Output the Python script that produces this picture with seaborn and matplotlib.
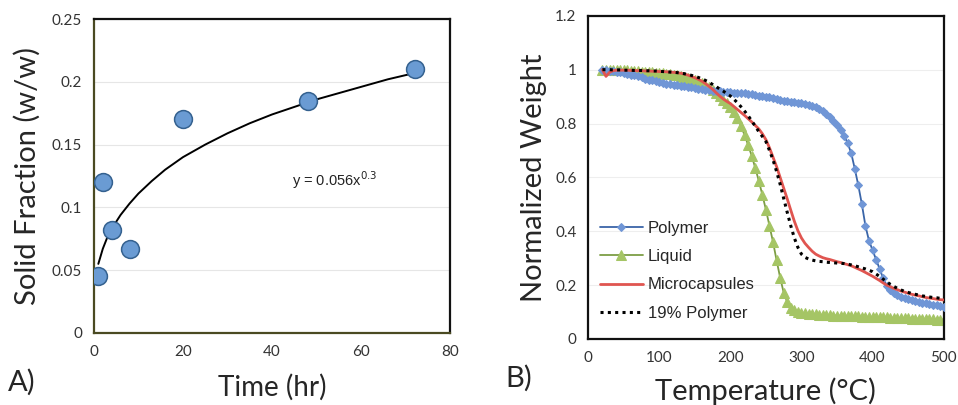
import numpy as np
import pandas as pd
import seaborn as sns
import matplotlib.pyplot as plt
from matplotlib.ticker import FuncFormatter

# +-------------------------------------+
#        Dados - painel A
# +-------------------------------------+
tempo_hr = [1, 2, 4, 8, 20, 48, 72]
fracao_solida = [0.045, 0.120, 0.082, 0.067, 0.170, 0.185, 0.210]

# curva de ajuste (y = 0.056x^0.3)
ajuste_x = [1, 2, 3, 4, 6, 8, 10, 13, 16, 20, 25, 30, 35, 40, 45, 50, 55, 60, 66, 72]
ajuste_y = [0.055, 0.067, 0.076, 0.083, 0.094, 0.103, 0.111, 0.121, 0.130, 0.140,
            0.150, 0.159, 0.167, 0.174, 0.180, 0.186, 0.191, 0.196, 0.202, 0.207]

# +-------------------------------------+
#        Dados - painel B (TGA)
# +-------------------------------------+
temperatura = list(range(20, 501, 5))

polymer = [1.000, 0.998, 0.996, 0.994, 0.992, 0.990, 0.988, 0.985, 0.982, 0.979,
           0.975, 0.971, 0.967, 0.963, 0.960, 0.957, 0.954, 0.951, 0.948, 0.946,
           0.944, 0.942, 0.940, 0.938, 0.936, 0.934, 0.932, 0.930, 0.928, 0.926,
           0.924, 0.922, 0.920, 0.919, 0.918, 0.917, 0.916, 0.915, 0.914, 0.913,
           0.912, 0.910, 0.908, 0.906, 0.904, 0.902, 0.900, 0.897, 0.894, 0.891,
           0.888, 0.885, 0.883, 0.881, 0.879, 0.877, 0.875, 0.872, 0.869, 0.865,
           0.860, 0.853, 0.845, 0.836, 0.825, 0.811, 0.795, 0.777, 0.755, 0.727,
           0.690, 0.632, 0.570, 0.500, 0.420, 0.365, 0.330, 0.295, 0.260, 0.225,
           0.197, 0.182, 0.172, 0.164, 0.157, 0.152, 0.148, 0.144, 0.141, 0.138,
           0.135, 0.132, 0.130, 0.127, 0.125, 0.122, 0.120]

liquid = [1.000, 1.000, 1.000, 0.999, 0.999, 0.998, 0.998, 0.997, 0.996, 0.995,
          0.994, 0.993, 0.992, 0.991, 0.990, 0.989, 0.988, 0.987, 0.985, 0.983,
          0.981, 0.979, 0.976, 0.973, 0.969, 0.965, 0.960, 0.955, 0.949, 0.942,
          0.934, 0.925, 0.914, 0.902, 0.889, 0.876, 0.862, 0.843, 0.820, 0.790,
          0.757, 0.720, 0.680, 0.635, 0.587, 0.535, 0.480, 0.420, 0.360, 0.292,
          0.228, 0.172, 0.137, 0.116, 0.106, 0.100, 0.097, 0.095, 0.093, 0.092,
          0.091, 0.090, 0.089, 0.088, 0.088, 0.087, 0.087, 0.086, 0.086, 0.085,
          0.085, 0.084, 0.084, 0.083, 0.083, 0.082, 0.082, 0.081, 0.081, 0.080,
          0.080, 0.079, 0.079, 0.078, 0.078, 0.077, 0.077, 0.076, 0.076, 0.075,
          0.075, 0.074, 0.074, 0.073, 0.072, 0.071, 0.070]

microcapsules = [1.000, 0.975, 0.990, 0.996, 0.998, 0.998, 0.998, 0.998, 0.997, 0.997,
                 0.996, 0.996, 0.995, 0.995, 0.994, 0.994, 0.993, 0.993, 0.992, 0.991,
                 0.990, 0.989, 0.987, 0.984, 0.980, 0.975, 0.970, 0.964, 0.957, 0.948,
                 0.938, 0.927, 0.914, 0.902, 0.891, 0.882, 0.874, 0.863, 0.852, 0.841,
                 0.830, 0.818, 0.806, 0.793, 0.780, 0.762, 0.740, 0.710, 0.675, 0.640,
                 0.600, 0.560, 0.520, 0.478, 0.437, 0.402, 0.375, 0.355, 0.340, 0.326,
                 0.315, 0.308, 0.302, 0.298, 0.295, 0.291, 0.287, 0.284, 0.280, 0.276,
                 0.272, 0.266, 0.260, 0.254, 0.247, 0.240, 0.233, 0.225, 0.217, 0.208,
                 0.200, 0.194, 0.188, 0.183, 0.178, 0.174, 0.170, 0.166, 0.163, 0.160,
                 0.157, 0.154, 0.152, 0.150, 0.148, 0.146, 0.145]

polymer_19 = [1.000, 1.000, 1.000, 0.999, 0.999, 0.999, 0.998, 0.998, 0.998, 0.997,
              0.997, 0.997, 0.996, 0.996, 0.995, 0.995, 0.994, 0.993, 0.992, 0.991,
              0.990, 0.989, 0.987, 0.985, 0.982, 0.979, 0.975, 0.971, 0.966, 0.960,
              0.953, 0.945, 0.937, 0.928, 0.920, 0.911, 0.902, 0.890, 0.877, 0.862,
              0.846, 0.829, 0.810, 0.790, 0.770, 0.752, 0.733, 0.700, 0.665, 0.622,
              0.575, 0.522, 0.470, 0.420, 0.375, 0.340, 0.315, 0.303, 0.297, 0.293,
              0.290, 0.288, 0.287, 0.285, 0.284, 0.283, 0.282, 0.281, 0.280, 0.278,
              0.275, 0.272, 0.268, 0.264, 0.260, 0.255, 0.250, 0.241, 0.232, 0.222,
              0.212, 0.203, 0.195, 0.188, 0.182, 0.177, 0.173, 0.169, 0.166, 0.163,
              0.160, 0.158, 0.156, 0.154, 0.153, 0.151, 0.150]

tga = pd.DataFrame({
    "temperatura": temperatura,
    "Polymer": polymer,
    "Liquid": liquid,
    "Microcapsules": microcapsules,
    "19% Polymer": polymer_19,
})

# +-------------------------------------+
#        Figura
# +-------------------------------------+
sns.set_style("white")
plt.rcParams['font.family'] = ['Lato', 'DejaVu Sans']

fig = plt.figure(figsize=(9.58, 4.05), dpi=100)
ax_a = fig.add_axes([0.098, 0.178, 0.372, 0.775])
ax_b = fig.add_axes([0.614, 0.163, 0.371, 0.798])

fmt = FuncFormatter(lambda v, p: "0" if v == 0 else f"{v:g}")

# ----------- Painel A -----------
sns.lineplot(x=ajuste_x, y=ajuste_y, ax=ax_a, color="black", linewidth=1.4, zorder=2)
sns.scatterplot(x=tempo_hr, y=fracao_solida, ax=ax_a, s=165, color="#6a9bd3",
                edgecolor="#34618f", linewidth=1.1, zorder=3)
ax_a.set_xlim(0, 80)
ax_a.set_ylim(0, 0.25)
ax_a.set_xticks([0, 20, 40, 60, 80])
ax_a.set_yticks([0, 0.05, 0.1, 0.15, 0.2, 0.25])
ax_a.yaxis.set_major_formatter(fmt)
ax_a.grid(axis="y", color="#e6e6e6", linewidth=0.8)
ax_a.set_axisbelow(True)
ax_a.text(44.5, 0.117, "y = 0.056x$^{0.3}$", fontsize=10.5, color="#222222",
          family=['Liberation Sans', 'DejaVu Sans'])
ax_a.set_xlabel("Time (hr)", fontsize=20, labelpad=11)
ax_a.set_ylabel("Solid Fraction (w/w)", fontsize=21, labelpad=8)
for lado in ["left", "bottom"]:
    ax_a.spines[lado].set_color("#4a4a22")
for lado in ["top", "right"]:
    ax_a.spines[lado].set_color("#111111")
for sp in ax_a.spines.values():
    sp.set_linewidth(1.6)

# ----------- Painel B -----------
sns.lineplot(data=tga, x="temperatura", y="Polymer", ax=ax_b, color="#3a65a8",
             linewidth=1.3, marker="D", markersize=4.5, markerfacecolor="#7096d6",
             markeredgecolor="#7096d6", label="Polymer", zorder=3)
sns.lineplot(data=tga, x="temperatura", y="Liquid", ax=ax_b, color="#7d9e45",
             linewidth=1.3, marker="^", markersize=6.5, markerfacecolor="#a5c565",
             markeredgecolor="#a5c565", label="Liquid", zorder=2)
sns.lineplot(data=tga, x="temperatura", y="Microcapsules", ax=ax_b, color="#e05550",
             linewidth=2.0, label="Microcapsules", zorder=4)
sns.lineplot(data=tga, x="temperatura", y="19% Polymer", ax=ax_b, color="black",
             linewidth=2.2, linestyle=(0, (1, 1.4)), label="19% Polymer", zorder=5)
ax_b.set_xlim(0, 500)
ax_b.set_ylim(0, 1.2)
ax_b.set_xticks([0, 100, 200, 300, 400, 500])
ax_b.set_yticks([0, 0.2, 0.4, 0.6, 0.8, 1.0, 1.2])
ax_b.yaxis.set_major_formatter(fmt)
ax_b.grid(axis="y", color="#eeeeee", linewidth=0.8)
ax_b.set_axisbelow(True)
ax_b.set_xlabel("Temperature (°C)", fontsize=21, labelpad=9)
ax_b.set_ylabel("Normalized Weight", fontsize=21, labelpad=6)
for sp in ax_b.spines.values():
    sp.set_color("#111111")
    sp.set_linewidth(1.6)
leg = ax_b.legend(loc="lower left", bbox_to_anchor=(-0.01, 0.01), frameon=False,
                  handlelength=2.6, handletextpad=0.3, labelspacing=0.8,
                  prop={'family': ['Liberation Sans', 'DejaVu Sans'], 'size': 12})

for ax in (ax_a, ax_b):
    ax.tick_params(direction="inout", length=7, width=1.4, labelsize=11,
                   labelcolor="#333333", color="#111111", pad=5)

fig.text(0.008, 0.035, "A)", fontsize=21)
fig.text(0.528, 0.045, "B)", fontsize=21)

plt.savefig("out.png", dpi=100)
